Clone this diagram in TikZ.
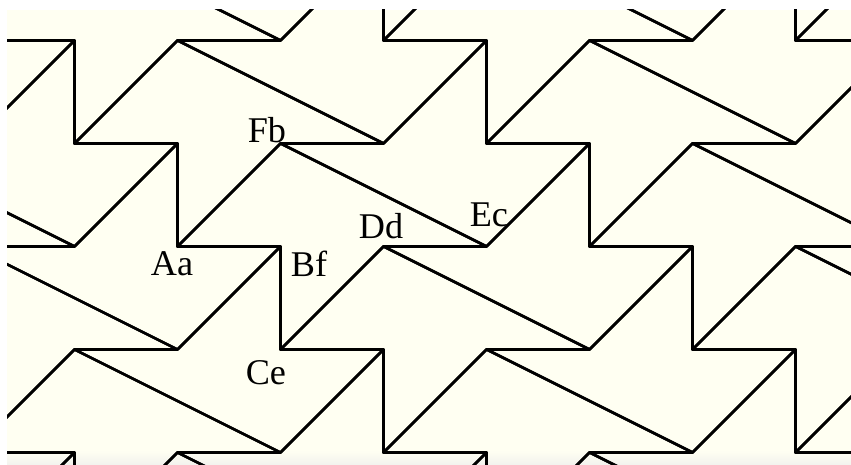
\documentclass[tikz,border=0pt]{standalone}
\usepackage{fontspec}
\setmainfont{Liberation Serif}
\definecolor{cream}{HTML}{FFFFF2}
\definecolor{fadegrey}{HTML}{F3F3EE}
\tikzset{
  tileline/.style={line width=0.52mm, black, line join=round, line cap=round},
  vertexlabel/.style={anchor=base, inner sep=0pt, font=\fontsize{20}{24}\selectfont},
}
\begin{document}
\begin{tikzpicture}[x=2cm,y=2cm]
\useasboundingbox (-2.723,-3.112) rectangle (5.539,1.393);
\fill[cream] (-2.655,-3.112) rectangle (5.539,1.296);
\shade[top color=cream, bottom color=fadegrey] (-2.655,-3.112) rectangle (5.539,-2.98);
\begin{scope}
\clip (-2.655,-3.112) rectangle (5.539,1.296);
% both orientations of the tile, repeated over the lattice
\foreach \i in {-3,...,8}
  \foreach \j in {-3,...,3} {
    \begin{scope}[shift={({\i-2*\j},{-\i-2*\j})}]
      \draw[tileline] (-1,-1) -- (0,-1) -- (0,-2) -- (1,-1) -- (2,-1) -- (0,0) -- cycle;
      \draw[tileline] (3,0) -- (2,0) -- (2,1) -- (1,0) -- (0,0) -- (2,-1) -- cycle;
    \end{scope}
  }
\end{scope}
\node[vertexlabel] (aa) at (-1.053,-1.277) {Aa};
\node[vertexlabel] (bf) at (0.277,-1.294) {Bf};
\node[vertexlabel] (ce) at (-0.141,-2.336) {Ce};
\node[vertexlabel] (dd) at (0.976,-0.927) {Dd};
\node[vertexlabel] (ec) at (2.024,-0.808) {Ec};
\node[vertexlabel] (fb) at (-0.131,0.005) {Fb};
\end{tikzpicture}
\end{document}
